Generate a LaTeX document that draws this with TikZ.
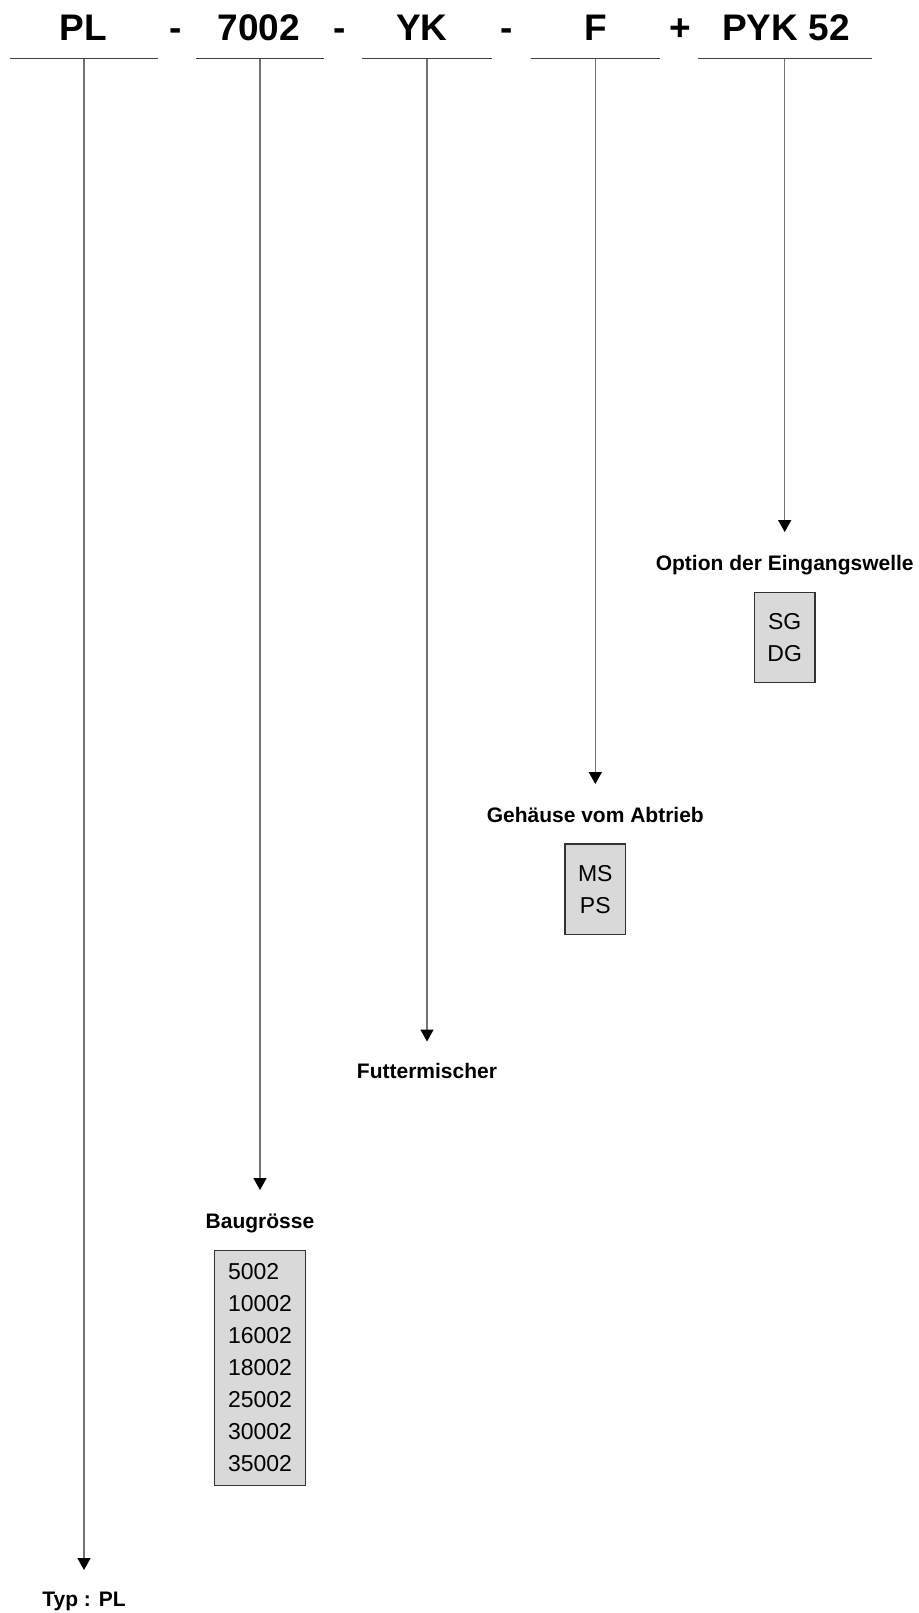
\documentclass[tikz,border=0pt]{standalone}
\usepackage{fontspec}
\setmainfont{Liberation Sans}
\usetikzlibrary{arrows.meta,positioning}

\begin{document}
\begin{tikzpicture}[x=0.5pt,y=-0.5pt,
    kopf/.style={font=\fontsize{18.5}{20}\selectfont\bfseries, inner sep=0pt, anchor=base},
    titel/.style={font=\fontsize{10.5}{12}\selectfont\bfseries, inner sep=0pt, text height=7.6pt, text depth=2.1pt},
    liste/.style={draw=black!80, fill=black!15, line width=0.6pt, font=\fontsize{11.5}{16}\selectfont, inner sep=0pt, anchor=north},
    linie/.style={black!75, line width=0.75pt},
    pfeil/.style={black!55, line width=0.75pt, -{Triangle[width=6.5pt,length=6pt,black]}}]

    \useasboundingbox (0,0) rectangle (918,1613);

    % Kopfzeile
    \node[kopf] (pl)  at (83,40)  {PL};
    \node[kopf] (gr)  at (259,40) {7002};
    \node[kopf] (yk)  at (422,40) {YK};
    \node[kopf] (f)   at (595.7,40) {F};
    \node[kopf] (pyk) at (786,40) {PYK 52};
    \foreach \x/\z [count=\i] in {175.5/-,339.6/-,506.7/-,680/+} {
        \node[kopf] (trenn\i) at (\x,40) {\z}; % Trennzeichen
    }

    % Unterstriche und Pfeile nach unten
    \foreach \n/\l/\r/\x/\t in {pl/10/157.7/84/1570, gr/196/324/260/1190, yk/362/492/427/1041.5, f/530.7/660/595.3/784, pyk/698/871.7/784.7/532} {
        \draw[linie] (\l,58.7) -- (\r,58.7); % Strich
        \coordinate (\n-oben) at (\x,58.7);
        \coordinate (\n-spitze) at (\x,\t);
        \draw[pfeil] (\n-oben) -- (\n-spitze);
    }

    % Beschriftung
    \node[titel, below=10.5pt of pl-spitze, on grid] (typ) {Typ : PL};
    \node[titel, below=11.2pt of gr-spitze, on grid] (baugr) {Baugrösse};
    \node[titel, below=10.5pt of yk-spitze, on grid] (futter) {Futtermischer};
    \node[titel, below=11.2pt of f-spitze, on grid] (gehaeuse) {Gehäuse vom Abtrieb};
    \node[titel, below=11.3pt of pyk-spitze, on grid] (option) {Option der Eingangswelle};

    % Kaesten
    \node[liste, below=8.6pt of baugr, minimum height=117.5pt, inner xsep=6.7pt, align=left] (baugr-liste)
        {5002\\10002\\16002\\18002\\25002\\30002\\35002};
    \node[liste, below=8.4pt of gehaeuse, minimum width=30.3pt, minimum height=45.3pt, align=center] (gehaeuse-liste) {MS\\PS};
    \node[liste, below=8.4pt of option, minimum width=30.2pt, minimum height=45.3pt, align=center] (option-liste) {SG\\DG};
\end{tikzpicture}
\end{document}
